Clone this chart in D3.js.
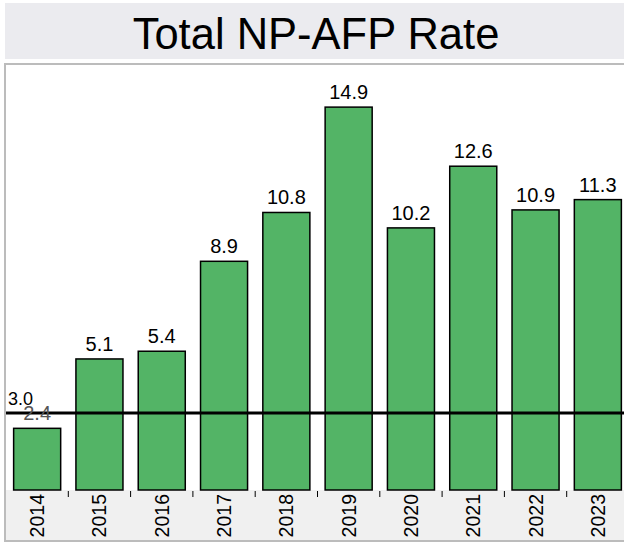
<!DOCTYPE html>
<html>
<head>
<meta charset="utf-8">
<script src="https://cdn.jsdelivr.net/npm/d3@7"></script>
<style>
  html, body { margin: 0; padding: 0; background: #fff; }
  svg { display: block; font-family: "Liberation Sans", Arial, sans-serif; }
</style>
</head>
<body>
<div id="chart"></div>
<script>
const title = "Total NP-AFP Rate";
const years = ["2014", "2015", "2016", "2017", "2018", "2019", "2020", "2021", "2022", "2023"];
const rates = [2.4, 5.1, 5.4, 8.9, 10.8, 14.9, 10.2, 12.6, 10.9, 11.3];
const target = 3.0;
const targetLabel = "3.0";

const W = 624, H = 544;
const svg = d3.select("#chart").append("svg").attr("width", W).attr("height", H);
svg.append("rect").attr("width", W).attr("height", H).attr("fill", "#fff");

// title band
svg.append("rect").attr("x", 5).attr("y", 3).attr("width", W - 5).attr("height", 56).attr("fill", "#ebebef");
svg.append("text").attr("x", 316).attr("y", 48.5).attr("text-anchor", "middle")
  .attr("font-size", 43.5).attr("fill", "#000").text(title);

const plotTop = 66, plotBottom = 490, plotLeft = 6, plotRight = 629;

const x = d3.scaleBand().domain(years).range([plotLeft, plotRight])
  .paddingInner(0.245).paddingOuter(0.1225);
const y = d3.scaleLinear().domain([0, 16.5]).range([plotBottom, plotTop]);

// axis band
svg.append("rect").attr("x", plotLeft).attr("y", plotBottom).attr("width", W - plotLeft).attr("height", 50).attr("fill", "#f0f0f0");

// plot border
svg.append("rect").attr("x", 5).attr("y", 64).attr("width", 640).attr("height", 477)
  .attr("fill", "none").attr("stroke", "#bcbcbc").attr("stroke-width", 2);

// bars
svg.append("g").selectAll("rect").data(rates).join("rect")
  .attr("x", (d, i) => x(years[i]))
  .attr("y", d => y(d))
  .attr("width", x.bandwidth())
  .attr("height", d => y(0) - y(d))
  .attr("fill", "#53b466")
  .attr("stroke", "#000")
  .attr("stroke-width", 1.5);

// target line
svg.append("line").attr("x1", plotLeft).attr("x2", W).attr("y1", y(target)).attr("y2", y(target))
  .attr("stroke", "#000").attr("stroke-width", 3);
svg.append("text").attr("x", 8).attr("y", y(target) - 8).attr("font-size", 18).attr("fill", "#000").text(targetLabel);

// value labels
svg.append("g").selectAll("text").data(rates).join("text")
  .attr("x", (d, i) => x(years[i]) + x.bandwidth() / 2)
  .attr("y", d => y(d) - 8)
  .attr("text-anchor", "middle")
  .attr("font-size", 20)
  .attr("fill", d => d < target ? "#555" : "#000")
  .text(d => d.toFixed(1));

// x axis
const axis = svg.append("g").attr("transform", `translate(0,${plotBottom})`)
  .call(d3.axisBottom(x).tickSize(0).tickPadding(0));
axis.select(".domain").remove();
axis.selectAll(".tick text")
  .attr("font-size", 19.5)
  .attr("font-family", "Liberation Sans, Arial, sans-serif")
  .attr("fill", "#000")
  .attr("text-anchor", "end")
  .attr("dominant-baseline", "central")
  .attr("dy", null)
  .attr("y", 0)
  .attr("transform", "translate(0,4) rotate(-90)");

// separator ticks between categories
const step = x.step();
const seps = years.slice(0, -1).map(yr => x(yr) + x.bandwidth() + (step - x.bandwidth()) / 2);
svg.append("g").selectAll("line").data(seps).join("line")
  .attr("x1", d => d).attr("x2", d => d)
  .attr("y1", plotBottom + 1).attr("y2", plotBottom + 7)
  .attr("stroke", "#000").attr("stroke-width", 1);
</script>
</body>
</html>
